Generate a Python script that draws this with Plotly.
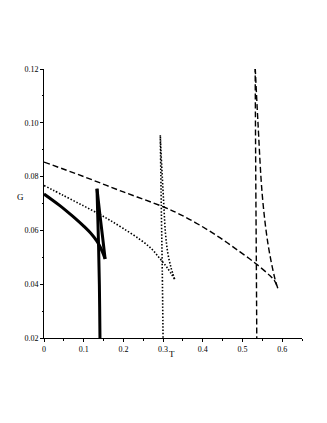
import plotly.graph_objects as go

# ---- Solid curve (thick) branches ----
T_solid_low = [0.0, 0.02, 0.04, 0.06, 0.08, 0.10, 0.12, 0.132, 0.140, 0.147, 0.154]
G_solid_low = [0.0735, 0.0714, 0.0692, 0.0668, 0.0643, 0.0616, 0.0586, 0.0563, 0.0543, 0.0521, 0.0494]
T_solid_mid = [0.154, 0.147, 0.140, 0.1335]
G_solid_mid = [0.0494, 0.0583, 0.0669, 0.0755]
T_solid_up = [0.1335, 0.1355, 0.1375, 0.1395, 0.141, 0.1415]
G_solid_up = [0.0755, 0.0650, 0.0540, 0.0400, 0.0200, 0.0150]

# ---- Dotted curve branches ----
T_dot_low = [0.0, 0.05, 0.10, 0.14, 0.167, 0.20, 0.241, 0.27, 0.291, 0.31, 0.329]
G_dot_low = [0.0767, 0.0729, 0.0691, 0.0660, 0.0637, 0.0607, 0.0567, 0.0533, 0.0497, 0.0462, 0.0419]
T_dot_mid = [0.329, 0.320, 0.312, 0.306, 0.302, 0.298, 0.2945, 0.293]
G_dot_mid = [0.0419, 0.0462, 0.0515, 0.0590, 0.0690, 0.0800, 0.0900, 0.0954]
T_dot_up = [0.293, 0.2955, 0.298, 0.300]
G_dot_up = [0.0954, 0.0690, 0.0450, 0.0190]

# ---- Dashed curve branches ----
T_dash_low = [0.0, 0.10, 0.20, 0.30, 0.342, 0.392, 0.443, 0.493, 0.535, 0.569, 0.581, 0.589]
G_dash_low = [0.0854, 0.0800, 0.0743, 0.0688, 0.0660, 0.0620, 0.0573, 0.0521, 0.0475, 0.0432, 0.0412, 0.0385]
T_dash_mid = [0.589, 0.581, 0.564, 0.550, 0.539, 0.532]
G_dash_mid = [0.0385, 0.0425, 0.0553, 0.0730, 0.1003, 0.1210]
T_dash_up = [0.532, 0.5335, 0.535, 0.536, 0.536]
G_dash_up = [0.1210, 0.0800, 0.0475, 0.0210, 0.0190]

x_ticks = [0, 0.1, 0.2, 0.3, 0.4, 0.5, 0.6]
y_ticks = [0.02, 0.04, 0.06, 0.08, 0.10, 0.12]

dash_line = dict(color="black", width=1.4, dash="6px,3px")
dot_line = dict(color="black", width=1.6, dash="1.5px,1.8px")
solid_line = dict(color="black", width=3)

fig = go.Figure()
for xs, ys, ln in [
    (T_dash_low, G_dash_low, dash_line),
    (T_dash_mid, G_dash_mid, dash_line),
    (T_dash_up, G_dash_up, dash_line),
    (T_dot_low, G_dot_low, dot_line),
    (T_dot_mid, G_dot_mid, dot_line),
    (T_dot_up, G_dot_up, dot_line),
    (T_solid_low, G_solid_low, solid_line),
    (T_solid_mid, G_solid_mid, solid_line),
    (T_solid_up, G_solid_up, solid_line),
]:
    fig.add_trace(go.Scatter(x=xs, y=ys, mode="lines",
                             line=dict(shape="spline", smoothing=1.0, **ln)))

font_family = "Liberation Serif, Times New Roman, serif"

axis_common = dict(
    showgrid=False, zeroline=False, automargin=False,
    showline=True, linecolor="black", linewidth=1,
    ticks="outside", ticklen=3, tickwidth=1, tickcolor="black",
    tickfont=dict(family=font_family, size=8, color="black"),
)

fig.update_layout(
    width=319, height=415,
    margin=dict(l=36, r=25, t=61, b=84.5),
    paper_bgcolor="white", plot_bgcolor="white",
    showlegend=False,
    font=dict(family=font_family, size=8, color="black"),
    xaxis=dict(range=[0, 0.65],
               tickvals=x_ticks, ticktext=[("%g" % v) for v in x_ticks],
               minor=dict(ticks="outside", ticklen=1.5, dtick=0.05, tickcolor="black"),
               **axis_common),
    yaxis=dict(range=[0.02, 0.12],
               tickvals=y_ticks, ticktext=["%.2f" % v for v in y_ticks],
               minor=dict(ticks="outside", ticklen=1.5, dtick=0.01, tickcolor="black"),
               **axis_common),
    annotations=[
        dict(text="G", xref="paper", yref="paper", x=-0.093, y=0.525,
             showarrow=False, xanchor="center", yanchor="middle",
             font=dict(family=font_family, size=9, color="black")),
        dict(text="T", xref="paper", yref="paper", x=0.497, y=-0.061,
             showarrow=False, xanchor="center", yanchor="middle",
             font=dict(family=font_family, size=9, color="black")),
    ],
)

fig.write_html("out.html")
